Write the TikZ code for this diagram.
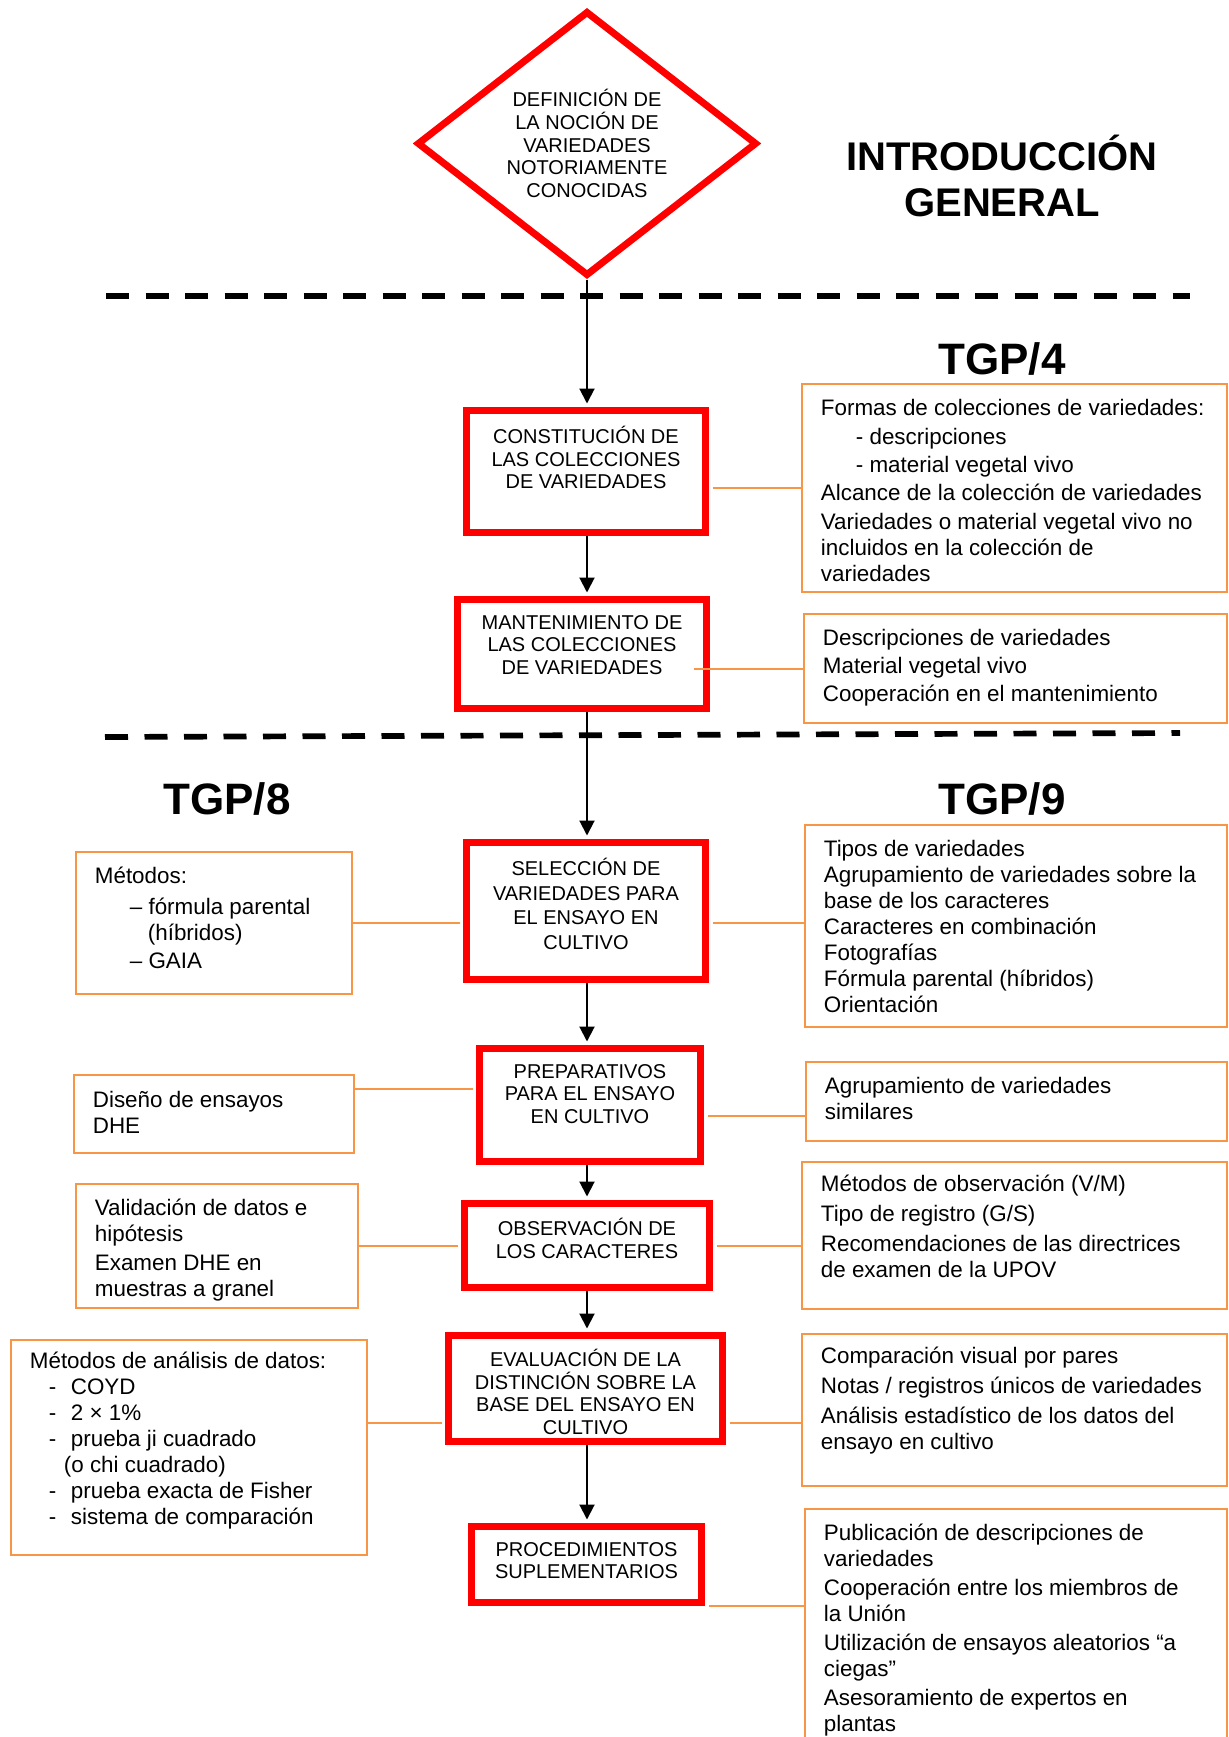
\documentclass[tikz,border=0pt]{standalone}
\usepackage{fontspec}
\setmainfont{Liberation Sans}
\usepackage{tikz}
\usetikzlibrary{positioning,shapes.geometric,arrows.meta}
\definecolor{boxorange}{RGB}{247,150,70}

\begin{document}
\begin{tikzpicture}[x=0.5pt, y=-0.5pt,
  redbox/.style={draw=red, line width=3.5pt, inner sep=0pt},
  obox/.style={draw=boxorange, line width=1pt, inner sep=0pt},
  redtxt/.style={inner sep=0pt, align=center, font=\fontsize{10pt}{11.25pt}\selectfont, execute at begin node={\rule{0pt}{9.3pt}}},
  otxt/.style={inner sep=0pt, align=left, font=\fontsize{11.2pt}{13pt}\selectfont, execute at begin node={\rule{0pt}{10.4pt}}},
  head/.style={inner sep=0pt, align=center, font=\fontsize{22pt}{26pt}\selectfont\bfseries},
  arr/.style={-{Triangle[length=7.5pt,width=7.5pt]}, line width=1pt, shorten >=1.75pt},
  conn/.style={draw=boxorange, line width=1pt, shorten <=1.75pt},
  sep/.style={line width=2.85pt, dash pattern=on 11.5pt off 8.25pt}]
\useasboundingbox (0,0) rectangle (1228,1737);

%draw headings
\node[head, font=\fontsize{20pt}{23pt}\selectfont\bfseries] (intro) at (1002,176) {INTRODUCCIÓN\\GENERAL};
\node[head] (tgpcuatro) at (1002,359) {TGP/4};
\node[head] (tgpocho) at (227,799) {TGP/8};
\node[head] (tgpnueve) at (1002,799) {TGP/9};

%draw dashed separators
\draw[sep] (106,296) -- (1190,296);
\draw[sep] (105,737) -- (1180,733);

%draw main steps
\node[diamond, draw=red, line width=3.5pt, minimum width=170pt, minimum height=132.5pt, inner sep=0pt, aspect=1.3, align=center, font=\fontsize{10pt}{11.4pt}\selectfont] (defin) at (587,143.5) {DEFINICIÓN DE\\LA NOCIÓN DE\\VARIEDADES\\NOTORIAMENTE\\CONOCIDAS};

\node[redbox, minimum width=119.5pt, minimum height=61pt] (constit) at (586,471.5) {};
\node[redtxt, below=9.5pt of constit.north] {CONSTITUCIÓN DE\\LAS COLECCIONES\\DE VARIEDADES};
\node[redbox, minimum width=124.5pt, minimum height=54.5pt] (manten) at (582,654) {};
\node[redtxt, below=9.5pt of manten.north] {MANTENIMIENTO DE\\LAS COLECCIONES\\DE VARIEDADES};
\node[redbox, minimum width=119.5pt, minimum height=68.5pt] (selec) at (586,911) {};
\node[redtxt, below=9.5pt of selec.north] {SELECCIÓN DE\\[1pt]VARIEDADES PARA\\[1pt]EL ENSAYO EN\\[1pt]CULTIVO};
\node[redbox, minimum width=110.5pt, minimum height=56.5pt] (prepar) at (590,1105) {};
\node[redtxt, below=9.5pt of prepar.north] {PREPARATIVOS\\PARA EL ENSAYO\\EN CULTIVO};
\node[redbox, minimum width=122.5pt, minimum height=42pt] (observ) at (587,1245.5) {};
\node[redtxt, below=9pt of observ.north] {OBSERVACIÓN DE\\LOS CARACTERES};
\node[redbox, minimum width=137pt, minimum height=53pt] (evalua) at (585.5,1388.5) {};
\node[redtxt, below=8.5pt of evalua.north] {EVALUACIÓN DE LA\\DISTINCIÓN SOBRE LA\\BASE DEL ENSAYO EN\\CULTIVO};
\node[redbox, minimum width=115pt, minimum height=38pt] (proced) at (586.5,1564.5) {};
\node[redtxt, below=9.5pt of proced.north] {PROCEDIMIENTOS\\SUPLEMENTARIOS};

%draw right boxes
\node[obox, minimum width=212.5pt, minimum height=104pt] (formas) at (1014.5,488) {};
\node[otxt, below right=8pt and 9.75pt of formas.north west] {Formas de colecciones de variedades:\\[1.2pt]\hspace*{17.5pt}- descripciones\\[1.2pt]\hspace*{17.5pt}- material vegetal vivo\\[1.2pt]Alcance de la colección de variedades\\[1.2pt]Variedades o material vegetal vivo no\\incluidos en la colección de\\variedades};
\node[obox, minimum width=211.5pt, minimum height=54.5pt] (descrip) at (1015.5,668.5) {};
\node[otxt, below right=8pt and 9.75pt of descrip.north west] {Descripciones de variedades\\[1pt]Material vegetal vivo\\[1pt]Cooperación en el mantenimiento};
\node[obox, minimum width=211pt, minimum height=101pt] (tipos) at (1016,926) {};
\node[otxt, below right=8pt and 9.75pt of tipos.north west] {Tipos de variedades\\Agrupamiento de variedades sobre la\\base de los caracteres\\Caracteres en combinación\\Fotografías\\Fórmula parental (híbridos)\\Orientación};
\node[obox, minimum width=210.5pt, minimum height=39.5pt] (agrup) at (1016.5,1101.5) {};
\node[otxt, below right=8pt and 9.75pt of agrup.north west] {Agrupamiento de variedades\\similares};
\node[obox, minimum width=212.5pt, minimum height=73.5pt] (metobs) at (1014.5,1235.5) {};
\node[otxt, below right=7pt and 9.75pt of metobs.north west] {Métodos de observación (V/M)\\[2pt]Tipo de registro (G/S)\\[2pt]Recomendaciones de las directrices\\de examen de la UPOV};
\node[obox, minimum width=212.5pt, minimum height=76pt] (compar) at (1014.5,1410) {};
\node[otxt, below right=7pt and 9.75pt of compar.north west] {Comparación visual por pares\\[2pt]Notas / registros únicos de variedades\\[2pt]Análisis estadístico de los datos del\\ensayo en cultivo};
\node[obox, minimum width=211pt, minimum height=118pt] (public) at (1016,1627) {};
\node[otxt, below right=8pt and 9.75pt of public.north west] {Publicación de descripciones de\\variedades\\[1.5pt]Cooperación entre los miembros de\\la Unión\\[1.5pt]Utilización de ensayos aleatorios “a\\ciegas”\\[1.5pt]Asesoramiento de expertos en\\plantas};

%draw left boxes
\node[obox, minimum width=138pt, minimum height=71pt] (metodos) at (214,923) {};
\node[otxt, below right=8pt and 9.75pt of metodos.north west] {Métodos:\\[2.5pt]\hspace*{17.5pt}– fórmula parental\\\hspace*{26.5pt}(híbridos)\\[1pt]\hspace*{17.5pt}– GAIA};
\node[obox, minimum width=140pt, minimum height=39pt] (diseno) at (214,1114) {};
\node[otxt, below right=8.5pt and 9.75pt of diseno.north west] {Diseño de ensayos\\DHE};
\node[obox, minimum width=141pt, minimum height=62pt] (valid) at (217,1246) {};
\node[otxt, below right=8pt and 9.75pt of valid.north west] {Validación de datos e\\hipótesis\\[1.5pt]Examen DHE en\\muestras a granel};
\node[obox, minimum width=178pt, minimum height=107.5pt] (analisis) at (189,1447.5) {};
\node[otxt, below right=6.5pt and 9.75pt of analisis.north west] {Métodos de análisis de datos:\\\hspace*{9.5pt}\makebox[11pt][l]{-}COYD\\\hspace*{9.5pt}\makebox[11pt][l]{-}2 × 1\%\\\hspace*{9.5pt}\makebox[11pt][l]{-}prueba ji cuadrado\\\hspace*{17pt}(o chi cuadrado)\\\hspace*{9.5pt}\makebox[11pt][l]{-}prueba exacta de Fisher\\\hspace*{9.5pt}\makebox[11pt][l]{-}sistema de comparación};

%draw arrows
\draw[arr] (defin.south) -- (defin.south |- constit.north);
\foreach \a/\b in {constit/manten, manten/selec, selec/prepar, prepar/observ, observ/evalua, evalua/proced}
   \draw[arr] (\a.south -| defin.south) -- (\b.north -| defin.south);

%draw connectors
\draw[conn] (constit.east |- formas.west) -- (formas.west);
\draw[conn] ([xshift=-10pt]manten.east |- descrip.west) -- (descrip.west);
\draw[conn] (selec.west |- metodos.east) -- (metodos.east);
\draw[conn] (selec.east |- metodos.east) -- (tipos.west |- metodos.east);
\draw[conn] ([yshift=8pt]prepar.west) -- ([yshift=8pt]prepar.west -| diseno.east);
\draw[conn] ([yshift=-5.5pt]prepar.east) -- ([yshift=-5.5pt]prepar.east -| agrup.west);
\draw[conn] (observ.west) -- (observ.west -| valid.east);
\draw[conn] (observ.east) -- (observ.east -| metobs.west);
\draw[conn] ([yshift=-17pt]evalua.west) -- ([yshift=-17pt]evalua.west -| analisis.east);
\draw[conn] ([yshift=-17pt]evalua.east) -- ([yshift=-17pt]evalua.east -| compar.west);
\draw[conn] (proced.south east) -- (proced.south east -| public.west);
\end{tikzpicture}
\end{document}
